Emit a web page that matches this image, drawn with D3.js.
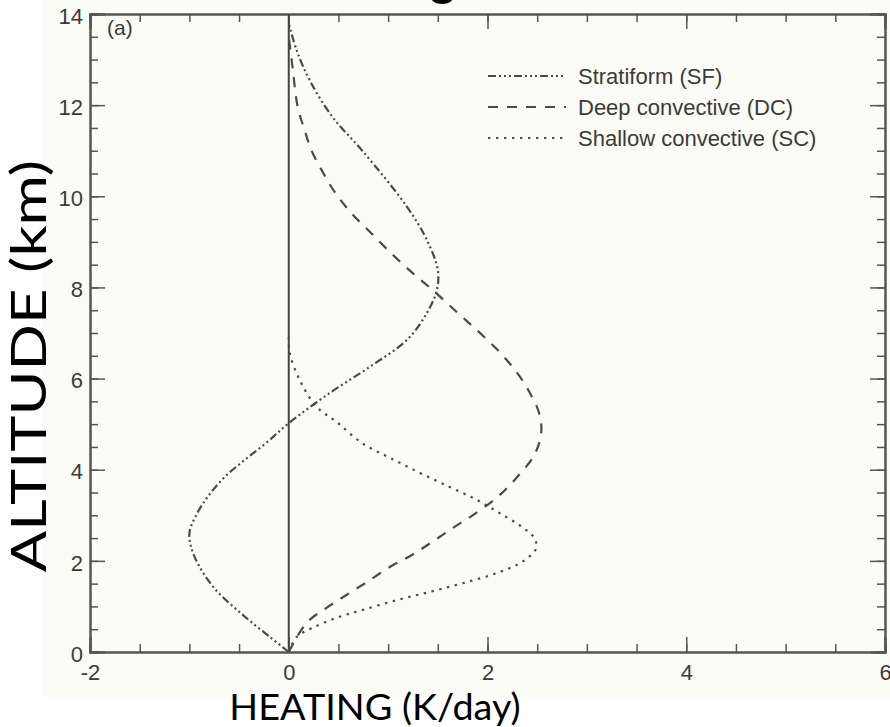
<!DOCTYPE html>
<html>
  <head>
    <meta charset="UTF-8" />
    <style>
      body {
        margin: 0;
        background: #ffffff;
      }
      .tick text {
        font-family: "Liberation Sans", Arial, sans-serif;
        font-size: 22px;
        fill: #3a3a3a;
      }
      .legend text {
        font-family: "Liberation Sans", Arial, sans-serif;
        font-size: 22px;
        fill: #3a3a3a;
      }
      .axisTitle {
        font-family: Lato, "Open Sans", sans-serif;
        fill: #000;
      }
    </style>
  </head>
  <body>
    <svg></svg>
    <script src="https://d3js.org/d3.v7.min.js"></script>
    <script>
      let width = 890,
        height = 727;

      // heating (K/day) and altitude (km)
      const sfHeat = [0, -0.19, -0.46, -0.76, -0.95, -1.0, -0.92, -0.8, -0.64, -0.44, -0.22, 0, 0.41, 0.81, 1.19, 1.39, 1.49, 1.5, 1.39, 1.19, 0.74, 0.44, 0.21, 0.08, 0];
      const sfAlt = [0, 0.33, 0.81, 1.43, 2.1, 2.6, 3.05, 3.45, 3.85, 4.22, 4.6, 5.02, 5.68, 6.25, 6.85, 7.44, 7.94, 8.38, 9.04, 9.77, 11.0, 11.74, 12.55, 13.2, 13.8];

      const dcHeat = [0, 0.18, 0.38, 0.58, 0.79, 1.02, 1.24, 1.44, 1.65, 1.85, 2.09, 2.29, 2.47, 2.54, 2.52, 2.42, 2.29, 2.1, 1.89, 1.69, 1.47, 1.25, 1.03, 0.83, 0.63, 0.46, 0.33, 0.23, 0.16, 0.09, 0.04, 0];
      const dcAlt = [0, 0.64, 0.97, 1.25, 1.54, 1.87, 2.13, 2.41, 2.72, 3.0, 3.38, 3.82, 4.32, 4.8, 5.24, 5.71, 6.15, 6.63, 7.07, 7.46, 7.9, 8.31, 8.75, 9.19, 9.63, 10.1, 10.58, 11.0, 11.45, 11.96, 12.8, 13.5];

      const scHeat = [0, 0.08, 0.24, 0.48, 0.74, 1.09, 1.42, 1.75, 2.09, 2.35, 2.49, 2.47, 2.35, 2.12, 1.89, 1.62, 1.32, 1.02, 0.74, 0.48, 0.28, 0.11, 0.01, 0];
      const scAlt = [0, 0.33, 0.53, 0.75, 0.92, 1.14, 1.32, 1.51, 1.73, 1.98, 2.28, 2.5, 2.74, 3.05, 3.34, 3.62, 3.93, 4.26, 4.58, 5.05, 5.38, 5.97, 6.56, 6.9];

      const seriesNames = ["Stratiform (SF)", "Deep convective (DC)", "Shallow convective (SC)"];
      const xTicks = [-2, 0, 2, 4, 6];
      const yTicks = [0, 2, 4, 6, 8, 10, 12, 14];

      let svg = d3.select("svg").attr("width", width).attr("height", height).style("display", "block");

      let plotLeft = 90,
        plotRight = 885,
        plotTop = 14,
        plotBottom = 652;

      let x = d3.scaleLinear().domain([-2, 6]).range([plotLeft, plotRight]);
      let y = d3.scaleLinear().domain([0, 14]).range([plotBottom, plotTop]);

      // off-white panel of the scanned figure
      svg
        .append("rect")
        .attr("x", 42)
        .attr("y", 0)
        .attr("width", width - 42)
        .attr("height", 697)
        .attr("fill", "#fcfcf7");

      // title cut off by the top edge, only the tail of the g shows
      svg
        .append("text")
        .attr("x", 458)
        .attr("y", -6)
        .attr("text-anchor", "end")
        .style("font-family", "Liberation Sans, Arial, sans-serif")
        .style("font-weight", "bold")
        .style("font-size", "50px")
        .text("Latent Heating");

      let minorX = d3.range(-2, 6.01, 0.5);
      let minorY = d3.range(0, 14.01, 0.5);
      let plain = (d) => String(d);

      // minor ticks on all four sides, pointing inward
      svg.append("g").attr("transform", "translate(0," + plotBottom + ")")
        .call(d3.axisBottom(x).tickValues(minorX).tickSize(-8).tickFormat(""));
      svg.append("g").attr("transform", "translate(0," + plotTop + ")")
        .call(d3.axisTop(x).tickValues(minorX).tickSize(-8).tickFormat(""));
      svg.append("g").attr("transform", "translate(" + plotLeft + ",0)")
        .call(d3.axisLeft(y).tickValues(minorY).tickSize(-8).tickFormat(""));
      svg.append("g").attr("transform", "translate(" + plotRight + ",0)")
        .call(d3.axisRight(y).tickValues(minorY).tickSize(-8).tickFormat(""));

      // major ticks with labels
      svg.append("g").attr("transform", "translate(0," + plotBottom + ")")
        .call(d3.axisBottom(x).tickValues(xTicks).tickSize(-15).tickPadding(12).tickFormat(plain));
      svg.append("g").attr("transform", "translate(0," + plotTop + ")")
        .call(d3.axisTop(x).tickValues(xTicks).tickSize(-15).tickFormat(""));
      svg.append("g").attr("class", "yAxis").attr("transform", "translate(" + plotLeft + ",0)")
        .call(d3.axisLeft(y).tickValues(yTicks).tickSize(-15).tickPadding(7).tickFormat(plain));
      svg.append("g").attr("transform", "translate(" + plotRight + ",0)")
        .call(d3.axisRight(y).tickValues(yTicks).tickSize(-15).tickFormat(""));

      svg.selectAll(".domain").attr("stroke", "#555").attr("stroke-width", 2);
      svg.selectAll(".tick line").attr("stroke", "#555").attr("stroke-width", 1.5);
      svg.selectAll(".yAxis .tick text").attr("dy", "0.42em");

      // zero line
      svg
        .append("line")
        .attr("x1", x(0))
        .attr("x2", x(0))
        .attr("y1", y(0))
        .attr("y2", y(14))
        .attr("stroke", "#444")
        .attr("stroke-width", 2);

      let dashes = ["8,3,2,3,2,3,2,3", "10,9", "2.4,5.6"];

      let series = [
        sfHeat.map((h, i) => [h, sfAlt[i]]),
        dcHeat.map((h, i) => [h, dcAlt[i]]),
        scHeat.map((h, i) => [h, scAlt[i]]),
      ];

      let line = d3
        .line()
        .x((d) => x(d[0]))
        .y((d) => y(d[1]))
        .curve(d3.curveCatmullRom.alpha(0.5));

      svg
        .append("g")
        .selectAll("path")
        .data(series)
        .enter()
        .append("path")
        .attr("d", line)
        .attr("fill", "none")
        .attr("stroke", "#4a4a4a")
        .attr("stroke-width", 2.2)
        .attr("stroke-dasharray", (d, i) => dashes[i]);

      // legend
      let legend = svg.append("g").attr("class", "legend");
      let rows = legend
        .selectAll("g")
        .data(seriesNames)
        .enter()
        .append("g")
        .attr("transform", (d, i) => "translate(488," + (76 + i * 31) + ")");
      rows
        .append("line")
        .attr("x1", 0)
        .attr("x2", 78)
        .attr("stroke", "#4a4a4a")
        .attr("stroke-width", 2.2)
        .attr("stroke-dasharray", (d, i) => dashes[i]);
      rows
        .append("text")
        .attr("x", 90)
        .attr("dy", "0.36em")
        .text((d) => d);

      svg
        .append("text")
        .attr("x", 107)
        .attr("y", 35)
        .style("font-family", "Liberation Sans, Arial, sans-serif")
        .style("font-size", "21px")
        .style("fill", "#3a3a3a")
        .text("(a)");

      // axis titles, stretched along the text to match the scanned figure
      svg
        .append("text")
        .attr("class", "axisTitle")
        .attr("transform", "translate(375,720) scale(1.05,1)")
        .attr("text-anchor", "middle")
        .style("font-size", "36px")
        .text("HEATING (K/day)");

      svg
        .append("text")
        .attr("class", "axisTitle")
        .attr("transform", "translate(46,366) rotate(-90) scale(1.25,1)")
        .attr("text-anchor", "middle")
        .style("font-size", "49px")
        .text("ALTITUDE (km)");
    </script>
  </body>
</html>
